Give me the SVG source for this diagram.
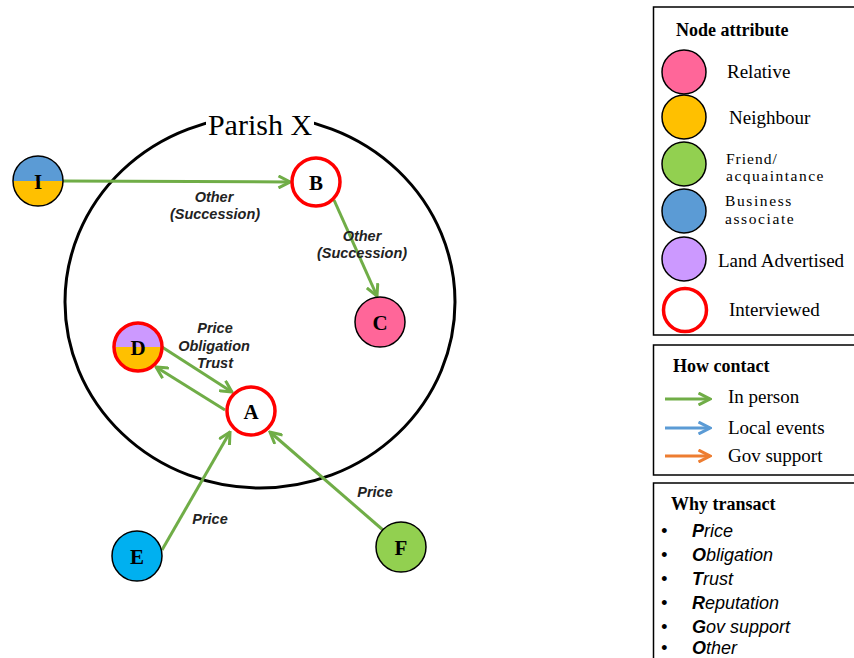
<svg xmlns="http://www.w3.org/2000/svg" width="854" height="658" viewBox="0 0 854 658">
<style>
.lbl{font-family:"Liberation Sans",Arial,sans-serif;font-weight:bold;font-style:italic;font-size:14.5px;fill:#222;text-anchor:middle}
.nl{font-family:"Liberation Serif","Times New Roman",serif;font-weight:bold;font-size:21px;fill:#000;text-anchor:middle}
.lt{font-family:"Liberation Serif","Times New Roman",serif;font-size:19px;fill:#000}
.lt2{font-family:"Liberation Serif","Times New Roman",serif;font-size:15.5px;fill:#000}
.lh{font-family:"Liberation Serif","Times New Roman",serif;font-size:18px;font-weight:bold;fill:#000}
.bt{font-family:"Liberation Sans",Arial,sans-serif;font-size:18px;font-style:italic;fill:#000}
.edge{stroke:#70AD47;stroke-width:3;fill:none}
.box{fill:#fff;stroke:#000;stroke-width:1.5}
.lc{stroke:#000;stroke-width:1.5}
.iv{fill:#fff;stroke:#FF0000;stroke-width:3.5}
</style>
<defs>
<marker id="ag" viewBox="0 0 14 14" refX="12.5" refY="7" markerWidth="14" markerHeight="14" markerUnits="userSpaceOnUse" orient="auto">
<path d="M1,1 L12.5,7 L1,13" fill="none" stroke="#70AD47" stroke-width="3"/>
</marker>
<marker id="ab" viewBox="0 0 14 14" refX="12.5" refY="7" markerWidth="14" markerHeight="14" markerUnits="userSpaceOnUse" orient="auto">
<path d="M1,1 L12.5,7 L1,13" fill="none" stroke="#5B9BD5" stroke-width="3"/>
</marker>
<marker id="ao" viewBox="0 0 14 14" refX="12.5" refY="7" markerWidth="14" markerHeight="14" markerUnits="userSpaceOnUse" orient="auto">
<path d="M1,1 L12.5,7 L1,13" fill="none" stroke="#ED7D31" stroke-width="3"/>
</marker>
</defs>
<rect width="854" height="658" fill="#fff"/>

<g id="parish">
<ellipse cx="260" cy="302" rx="195" ry="186" fill="none" stroke="#000" stroke-width="3"/>
<rect x="206" y="106" width="108" height="32" fill="#fff"/>
<text x="260" y="135" font-family="'Liberation Serif','Times New Roman',serif" font-size="30" text-anchor="middle">Parish X</text>
</g>

<g id="connectors">
<line class="edge" x1="63" y1="181" x2="290" y2="182" marker-end="url(#ag)"/>
<line class="edge" x1="334" y1="200" x2="377" y2="296" marker-end="url(#ag)"/>
<line class="edge" x1="162" y1="347" x2="232" y2="392" marker-end="url(#ag)"/>
<line class="edge" x1="225" y1="410" x2="156" y2="367" marker-end="url(#ag)"/>
<line class="edge" x1="162" y1="550" x2="230" y2="432" marker-end="url(#ag)"/>
<line class="edge" x1="383" y1="530" x2="270" y2="432" marker-end="url(#ag)"/>
<text class="lbl" x="214" y="202">Other</text>
<text class="lbl" x="215" y="219">(Succession)</text>
<text class="lbl" x="362" y="241">Other</text>
<text class="lbl" x="362" y="258">(Succession)</text>
<text class="lbl" x="215" y="333">Price</text>
<text class="lbl" x="214" y="351">Obligation</text>
<text class="lbl" x="215" y="368">Trust</text>
<text class="lbl" x="210" y="524">Price</text>
<text class="lbl" x="375" y="497">Price</text>
</g>

<g id="node-I">
<path d="M13,181 A25,25 0 0 1 63,181 Z" fill="#5B9BD5"/>
<path d="M13,181 A25,25 0 0 0 63,181 Z" fill="#FFC000"/>
<circle cx="38" cy="181" r="25" fill="none" class="lc"/>
<text class="nl" x="38" y="189">I</text>
</g>
<g id="node-B">
<circle cx="316" cy="182" r="24" class="iv"/>
<text class="nl" x="316" y="190">B</text>
</g>
<g id="node-C">
<circle cx="380" cy="322" r="25" fill="#FF6699" class="lc"/>
<text class="nl" x="380" y="330">C</text>
</g>
<g id="node-D">
<path d="M114,347 A24,24 0 0 1 162,347 Z" fill="#CC99FF"/>
<path d="M114,347 A24,24 0 0 0 162,347 Z" fill="#FFC000"/>
<circle cx="138" cy="347" r="24" fill="none" stroke="#FF0000" stroke-width="3.5"/>
<text class="nl" x="138" y="355">D</text>
</g>
<g id="node-A">
<circle cx="251" cy="411" r="24" class="iv"/>
<text class="nl" x="251" y="419">A</text>
</g>
<g id="node-E">
<circle cx="137" cy="556" r="25" fill="#00B0F0" class="lc"/>
<text class="nl" x="137" y="564">E</text>
</g>
<g id="node-F">
<circle cx="401" cy="547" r="25" fill="#92D050" class="lc"/>
<text class="nl" x="401" y="555">F</text>
</g>

<g id="legend-node">
<rect class="box" x="653.5" y="7" width="210" height="328"/>
<text class="lh" x="676" y="36">Node attribute</text>
<circle cx="684" cy="72" r="22" fill="#FF6699" class="lc"/>
<text class="lt" x="727" y="78">Relative</text>
<circle cx="684" cy="117" r="22" fill="#FFC000" class="lc"/>
<text class="lt" x="729" y="124">Neighbour</text>
<circle cx="684" cy="164" r="22" fill="#92D050" class="lc"/>
<text class="lt2" x="726" y="163.5" letter-spacing="1">Friend/</text>
<text class="lt2" x="726" y="181" letter-spacing="1.5">acquaintance</text>
<circle cx="684" cy="211" r="22" fill="#5B9BD5" class="lc"/>
<text class="lt2" x="725" y="206" letter-spacing="1.6">Business</text>
<text class="lt2" x="725" y="223.5" letter-spacing="1.6">associate</text>
<circle cx="684" cy="259" r="22" fill="#CC99FF" class="lc"/>
<text class="lt" x="718" y="267">Land Advertised</text>
<circle cx="685" cy="310" r="21.5" class="iv"/>
<text class="lt" x="729" y="316">Interviewed</text>
</g>

<g id="legend-contact">
<rect class="box" x="653.5" y="345" width="210" height="130"/>
<text class="lh" x="673" y="372">How contact</text>
<line x1="665" y1="399" x2="710" y2="399" stroke="#70AD47" stroke-width="3" marker-end="url(#ag)"/>
<text class="lt" x="728" y="403">In person</text>
<line x1="665" y1="428" x2="710" y2="428" stroke="#5B9BD5" stroke-width="3" marker-end="url(#ab)"/>
<text class="lt" x="728" y="434">Local events</text>
<line x1="665" y1="456" x2="710" y2="456" stroke="#ED7D31" stroke-width="3" marker-end="url(#ao)"/>
<text class="lt" x="728" y="462">Gov support</text>
</g>

<g id="legend-why">
<rect class="box" x="653.5" y="483" width="210" height="200"/>
<text class="lh" x="671" y="510">Why transact</text>
<g class="bt">
<text x="661" y="537">•</text><text x="692" y="537"><tspan font-weight="bold">P</tspan>rice</text>
<text x="661" y="561">•</text><text x="692" y="561"><tspan font-weight="bold">O</tspan>bligation</text>
<text x="661" y="585">•</text><text x="692" y="585"><tspan font-weight="bold">T</tspan>rust</text>
<text x="661" y="609">•</text><text x="692" y="609"><tspan font-weight="bold">R</tspan>eputation</text>
<text x="661" y="633">•</text><text x="692" y="633"><tspan font-weight="bold">G</tspan>ov support</text>
<text x="661" y="654">•</text><text x="692" y="654"><tspan font-weight="bold">O</tspan>ther</text>
</g>
</g>
</svg>
